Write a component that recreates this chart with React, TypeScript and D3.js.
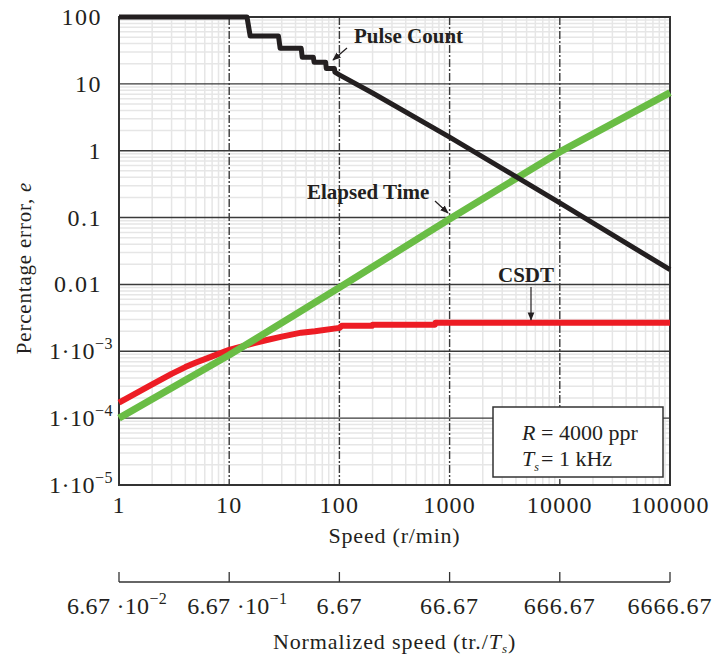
import React from "react";
import { scaleLog, line } from "d3";

// axes
const speedTicks = [1, 10, 100, 1000, 10000, 100000];
const errorTicks = [100, 10, 1, 0.1, 0.01, 1e-3, 1e-4, 1e-5];
const errorTickLabels = [
  ["100", ""],
  ["10", ""],
  ["1", ""],
  ["0.1", ""],
  ["0.01", ""],
  ["1·10", "−3"],
  ["1·10", "−4"],
  ["1·10", "−5"],
];
const normalizedTickLabels = [
  ["6.67 ·10", "−2"],
  ["6.67 ·10", "−1"],
  ["6.67", ""],
  ["66.67", ""],
  ["666.67", ""],
  ["6666.67", ""],
];

// series
const pulseSpeed = [1, 14.5, 15.5, 28, 29, 45, 46, 58, 59, 75, 76, 90, 91, 100, 200, 1000, 10000, 100000];
const pulseError = [100, 100, 52, 52, 34, 34, 25, 25, 21, 21, 17, 17, 15, 13.6, 7.3, 1.6, 0.166, 0.0166];

const elapsedSpeed = [1, 10, 100, 1000, 10000, 100000];
const elapsedError = [1.0e-4, 8.8e-4, 0.009, 0.095, 0.96, 7.4];

const csdtSpeed = [1, 2, 3, 4, 5, 7, 10, 15, 21, 30, 45, 60, 100, 105, 198, 200, 738, 745, 100000];
const csdtError = [
  1.7e-4, 3.2e-4, 4.6e-4, 5.8e-4, 6.8e-4, 8.4e-4, 1.05e-3, 1.26e-3, 1.45e-3, 1.66e-3, 1.9e-3, 2.0e-3,
  2.24e-3, 2.4e-3, 2.4e-3, 2.5e-3, 2.5e-3, 2.67e-3, 2.67e-3,
];

const font = "'Liberation Serif', 'Times New Roman', serif";
const ink = "#231f20";

const App = () => {
  const width = 715;
  const height = 657;
  const left = 119;
  const right = 670;
  const top = 17;
  const bottom = 485;

  const x = scaleLog().domain([1, 100000]).range([left, right]);
  const y = scaleLog().domain([1e-5, 100]).range([bottom, top]);

  const isDecade = (v: number) => Math.abs(Math.log10(v) - Math.round(Math.log10(v))) < 1e-9;
  const xMinor = x.ticks().filter((v) => !isDecade(v));
  const yMinor = y.ticks().filter((v) => !isDecade(v));

  const path = (xs: number[], ys: number[]) =>
    line<number>()
      .x((_, i) => x(xs[i]))
      .y((_, i) => y(ys[i]))(xs) || "";

  const axisY = 582;

  return (
    <svg
      width={width}
      height={height}
      style={{ position: "absolute", left: 0, top: 0, background: "#fff" }}
      fontFamily={font}
    >
      {/* minor grid */}
      {xMinor.map((v, i) => (
        <line key={"xm" + i} x1={x(v)} x2={x(v)} y1={top} y2={bottom} stroke="#e6e6e6" strokeWidth={1.5} />
      ))}
      {yMinor.map((v, i) => (
        <line key={"ym" + i} x1={left} x2={right} y1={y(v)} y2={y(v)} stroke="#e6e6e6" strokeWidth={1.5} />
      ))}
      {/* major grid */}
      {errorTicks.map((v, i) => (
        <line key={"yM" + i} x1={left} x2={right} y1={y(v)} y2={y(v)} stroke="#3a3a3a" strokeWidth={1.4} />
      ))}
      {speedTicks.slice(1, -1).map((v, i) => (
        <line
          key={"xM" + i}
          x1={x(v)}
          x2={x(v)}
          y1={top}
          y2={bottom}
          stroke="#3a3a3a"
          strokeWidth={1.4}
          strokeDasharray="8 2 2 2"
        />
      ))}
      <rect x={left} y={top} width={right - left} height={bottom - top} fill="none" stroke="#333" strokeWidth={2} />

      {/* legend box */}
      <rect x={493} y={407} width={170} height={70} fill="#fff" stroke="#333" strokeWidth={1.5} />
      <text x={522} y={440} fontSize={22} fill={ink}>
        <tspan fontStyle="italic">R</tspan>
        <tspan x={541}>= 4000 ppr</tspan>
      </text>
      <text x={522} y={466} fontSize={22} fill={ink}>
        <tspan fontStyle="italic">T</tspan>
        <tspan fontStyle="italic" fontSize={12} dy={5}>s</tspan>
        <tspan x={541} dy={-5}>= 1 kHz</tspan>
      </text>

      {/* series */}
      <path d={path(csdtSpeed, csdtError)} fill="none" stroke="#ed1c24" strokeWidth={6} strokeLinejoin="round" />
      <path d={path(elapsedSpeed, elapsedError)} fill="none" stroke="#6abd45" strokeWidth={7} strokeLinejoin="round" />
      <path d={path(pulseSpeed, pulseError)} fill="none" stroke={ink} strokeWidth={5} strokeLinejoin="round" />

      {/* annotations */}
      <defs>
        <marker id="arr" viewBox="0 0 10 10" refX={9} refY={5} markerWidth={7} markerHeight={7} orient="auto">
          <path d="M0,1 L10,5 L0,9 z" fill={ink} />
        </marker>
      </defs>
      <text x={354} y={43} fontSize={21} fontWeight="bold" fill={ink}>Pulse Count</text>
      <line x1={347} y1={48} x2={333} y2={60} stroke={ink} strokeWidth={1.2} markerEnd="url(#arr)" />
      <text x={307} y={199} fontSize={21} fontWeight="bold" fill={ink}>Elapsed Time</text>
      <line x1={435} y1={201} x2={448} y2={213} stroke={ink} strokeWidth={1.2} markerEnd="url(#arr)" />
      <text x={526} y={282} fontSize={21} fontWeight="bold" fill={ink} textAnchor="middle">CSDT</text>
      <line x1={531} y1={287} x2={531} y2={320} stroke={ink} strokeWidth={1.2} markerEnd="url(#arr)" />

      {/* y axis labels */}
      {errorTicks.map((v, i) => {
        const [base, sup] = errorTickLabels[i];
        return (
          <text
            key={"yl" + i}
            x={sup ? 113 : 102}
            y={y(v) + 8}
            fontSize={24}
            letterSpacing={sup ? 0.5 : 1.5}
            textAnchor="end"
            fill={ink}
          >
            {base}
            {sup && (
              <tspan fontSize={16} dy={-10}>
                {sup}
              </tspan>
            )}
          </text>
        );
      })}
      <text
        transform={`translate(31,268) rotate(-90)`}
        fontSize={21}
        letterSpacing={0.8}
        textAnchor="middle"
        fill={ink}
      >
        Percentage error, <tspan fontStyle="italic">e</tspan>
      </text>

      {/* x axis labels */}
      {speedTicks.map((v, i) => (
        <text key={"xl" + i} x={x(v)} y={513} fontSize={24} letterSpacing={1.2} textAnchor="middle" fill={ink}>
          {v}
        </text>
      ))}
      <text x={(left + right) / 2} y={543} fontSize={22} letterSpacing={0.8} textAnchor="middle" fill={ink}>
        Speed (r/min)
      </text>

      {/* secondary normalized speed axis */}
      <line x1={left} x2={right} y1={axisY} y2={axisY} stroke="#333" strokeWidth={1.3} />
      {speedTicks.map((v, i) => (
        <line key={"st" + i} x1={x(v)} x2={x(v)} y1={axisY - 10} y2={axisY} stroke="#333" strokeWidth={1.3} />
      ))}
      {speedTicks.map((v, i) => {
        const [base, sup] = normalizedTickLabels[i];
        return (
          <text
            key={"nl" + i}
            x={x(v)}
            dx={sup ? (i === 0 ? -2 : 8) : 0}
            y={614}
            fontSize={24}
            letterSpacing={sup ? 0.3 : 1}
            textAnchor="middle"
            fill={ink}
          >
            {base}
            {sup && (
              <tspan fontSize={16} dy={-10}>
                {sup}
              </tspan>
            )}
          </text>
        );
      })}
      <text x={(left + right) / 2} y={649} fontSize={22} letterSpacing={0.9} textAnchor="middle" fill={ink}>
        Normalized speed (tr./<tspan fontStyle="italic">T</tspan>
        <tspan fontStyle="italic" fontSize={13} dy={4}>s</tspan>
        <tspan dy={-4}>)</tspan>
      </text>
    </svg>
  );
};

export default App;
